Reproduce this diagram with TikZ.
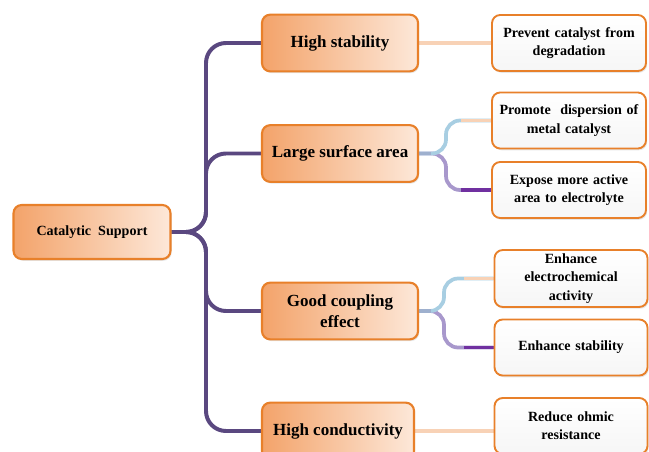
\documentclass[tikz,border=0pt]{standalone}
\usepackage{fontspec}
\setmainfont{Liberation Serif}
\usepackage{xcolor}
\usepackage{tikz}
\usetikzlibrary{shadows}
\usetikzlibrary{backgrounds}
\definecolor{trunkpurple}{RGB}{90,72,128}
\definecolor{peachline}{RGB}{248,210,182}
\definecolor{skyline}{RGB}{168,206,226}
\definecolor{lavline}{RGB}{168,152,204}
\definecolor{violetline}{RGB}{112,48,160}
\definecolor{forkgray}{RGB}{158,176,206}
\definecolor{boxorange}{RGB}{232,128,42}
\definecolor{boxdark}{RGB}{243,163,106}
\definecolor{boxlight}{RGB}{253,232,217}

\begin{document}
\begin{tikzpicture}[x=0.03cm, y=-0.03cm,
  mainbox/.style={rectangle, draw=boxorange, line width=1.8pt, left color=boxdark, right color=boxlight, rounded corners=7pt, minimum width=4.68cm, minimum height=1.7cm, align=center, font=\bfseries\fontsize{14.5}{17.5}\selectfont, drop shadow={opacity=0.2, shadow xshift=1pt, shadow yshift=-1.5pt}},
  rootbox/.style={mainbox, minimum width=4.71cm, minimum height=1.62cm, font=\bfseries\fontsize{12}{14}\selectfont},
  sidebox/.style={rectangle, draw=boxorange, line width=1.6pt, top color=white, bottom color=gray!7, rounded corners=7pt, minimum width=4.62cm, minimum height=1.68cm, text width=4.3cm, align=center, font=\bfseries\fontsize{12}{15.5}\selectfont, drop shadow={opacity=0.2, shadow xshift=1pt, shadow yshift=-1.5pt}},
  trunk/.style={draw=trunkpurple, line width=3.4pt, rounded corners=17pt},
  split/.style={line width=3.2pt, rounded corners=12pt}]

  \useasboundingbox (0,0) rectangle (649,452);

  \node[rootbox] (cat) at (92,232) {Catalytic\ \ Support};

  \node[mainbox] (hs) at (340,43) {High stability};
  \node[mainbox] (lsa) at (340,153.5) {Large surface area};
  \node[mainbox] (gce) at (340,311) {Good coupling\\effect};
  \node[mainbox, minimum width=4.56cm] (hc) at (338,431) {High conductivity};

  \node[sidebox] (pcd) at (569,43) {Prevent catalyst from\\degradation};
  \node[sidebox] (pdm) at (569,120.5) {Promote\ \ dispersion of\\metal catalyst};
  \node[sidebox] (emaa) at (569,190) {Expose more active\\area to electrolyte};
  \node[sidebox, minimum width=4.59cm] (eea) at (571,278.5) {Enhance\\electrochemical\\activity};
  \node[sidebox, minimum width=4.59cm] (es) at (571,347.5) {Enhance stability};
  \node[sidebox, minimum width=4.59cm] (ror) at (571,426) {Reduce ohmic\\resistance};

  \coordinate (fork) at (206,232);
  \coordinate (lsafork) at (446,153.5);
  \coordinate (gcefork) at (444,311);

  \begin{scope}[on background layer]
    \foreach \t in {hs,lsa,gce,hc}
      \draw[trunk] (cat.east) -| (fork |- \t.west) -- (\t.west);

    \draw[split, peachline] (hs.east) -- (hs.east -| pcd.west);
    \draw[split, peachline] (hc.east) -- (hc.east -| ror.west);

    \draw[split, lavline] (lsa.east) -| (lsafork |- emaa.west) -- (emaa.west);
    \draw[split, skyline] (lsa.east) -| (lsafork |- pdm.west) -- (pdm.west);
    \draw[split, violetline] (emaa.west) -- ++(-30,0);
    \draw[split, peachline] (pdm.west) -- ++(-30,0);
    \draw[split, forkgray] (lsa.east) -- ++(12,0);

    \draw[split, lavline] (gce.east) -| (gcefork |- es.west) -- (es.west);
    \draw[split, skyline] (gce.east) -| (gcefork |- eea.west) -- (eea.west);
    \draw[split, violetline] (es.west) -- ++(-30,0);
    \draw[split, peachline] (eea.west) -- ++(-30,0);
    \draw[split, forkgray] (gce.east) -- ++(12,0);
  \end{scope}
\end{tikzpicture}
\end{document}
